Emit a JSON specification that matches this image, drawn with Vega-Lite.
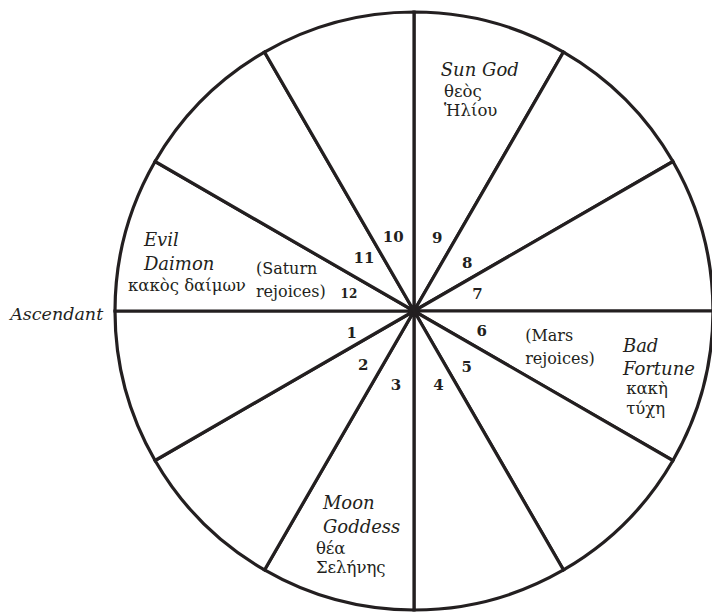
{
  "$schema": "https://vega.github.io/schema/vega-lite/v6.json",
  "width": 598,
  "height": 598,
  "autosize": {"type": "none"},
  "padding": {"left": 115, "top": 12, "right": 0, "bottom": 6},
  "background": "white",
  "config": {"view": {"stroke": null}, "text": {"font": "DejaVu Serif", "color": "#231f20"}},
  "datasets": {
    "houses": [
      {"house": 1, "span": 30, "r": 1}, {"house": 2, "span": 30, "r": 1}, {"house": 3, "span": 30, "r": 1},
      {"house": 4, "span": 30, "r": 1}, {"house": 5, "span": 30, "r": 1}, {"house": 6, "span": 30, "r": 1},
      {"house": 7, "span": 30, "r": 1}, {"house": 8, "span": 30, "r": 1}, {"house": 9, "span": 30, "r": 1},
      {"house": 10, "span": 30, "r": 1}, {"house": 11, "span": 30, "r": 1}, {"house": 12, "span": 30, "r": 1}
    ],
    "labels": [
      {"kind": "number", "label": "1", "angle": 250.3, "dist": 0.221},
      {"kind": "number", "label": "2", "angle": 223.2, "dist": 0.248},
      {"kind": "number", "label": "3", "angle": 193.7, "dist": 0.255},
      {"kind": "number", "label": "4", "angle": 161.8, "dist": 0.261},
      {"kind": "number", "label": "5", "angle": 136.6, "dist": 0.257},
      {"kind": "number", "label": "6", "angle": 106.5, "dist": 0.236},
      {"kind": "number", "label": "7", "angle": 75.1, "dist": 0.220},
      {"kind": "number", "label": "8", "angle": 47.8, "dist": 0.240},
      {"kind": "number", "label": "9", "angle": 17.8, "dist": 0.255},
      {"kind": "number", "label": "10", "angle": 344.4, "dist": 0.258},
      {"kind": "number", "label": "11", "angle": 316.5, "dist": 0.243},
      {"kind": "number", "label": "12", "angle": 284.7, "dist": 0.225},
      {"kind": "name", "label": "Sun God", "angle": 6.5, "dist": 0.791},
      {"kind": "greek", "label": "θεὸς\nἩλίου", "angle": 8.0, "dist": 0.723},
      {"kind": "name", "label": "Evil\nDaimon", "angle": 283.5, "dist": 0.929},
      {"kind": "greek", "label": "κακὸς δαίμων", "angle": 274.0, "dist": 0.959},
      {"kind": "note", "label": "(Saturn\nrejoices)", "angle": 283.2, "dist": 0.543},
      {"kind": "side", "label": "Ascendant", "angle": 268.3, "dist": 1.040},
      {"kind": "note", "label": "(Mars\nrejoices)", "angle": 105.1, "dist": 0.385},
      {"kind": "name", "label": "Bad\nFortune", "angle": 101.1, "dist": 0.712},
      {"kind": "greek", "label": "κακὴ\nτύχη", "angle": 111.4, "dist": 0.762},
      {"kind": "name", "label": "Moon\nGoddess", "angle": 204.7, "dist": 0.729},
      {"kind": "greek", "label": "θέα\nΣελήνης", "angle": 202.0, "dist": 0.876}
    ]
  },
  "layer": [
    {
      "data": {"name": "houses"},
      "mark": {"type": "arc", "fill": "white", "stroke": "#231f20", "strokeWidth": 3.2},
      "encoding": {
        "theta": {"field": "span", "type": "quantitative", "stack": true, "scale": {"domain": [0, 360]}},
        "radius": {"field": "r", "type": "quantitative", "scale": {"type": "linear", "domain": [0, 1], "range": [0, 299]}},
        "order": {"field": "house", "type": "quantitative"}
      }
    },
    {
      "data": {"name": "labels"},
      "transform": [{"filter": "datum.kind == 'number' && datum.label != '12'"}],
      "mark": {"type": "text", "fontWeight": "bold", "fontSize": 15, "align": "center", "baseline": "middle"},
      "encoding": {
        "theta": {"field": "angle", "type": "quantitative"},
        "radius": {"field": "dist", "type": "quantitative"},
        "text": {"field": "label"}
      }
    },
    {
      "data": {"name": "labels"},
      "transform": [{"filter": "datum.label == '12'"}],
      "mark": {"type": "text", "fontWeight": "bold", "fontSize": 12, "align": "center", "baseline": "middle"},
      "encoding": {
        "theta": {"field": "angle", "type": "quantitative"},
        "radius": {"field": "dist", "type": "quantitative"},
        "text": {"field": "label"}
      }
    },
    {
      "data": {"name": "labels"},
      "transform": [{"filter": "datum.kind == 'name'"}],
      "mark": {"type": "text", "fontStyle": "italic", "fontSize": 18, "align": "left", "baseline": "alphabetic", "lineBreak": "\n", "lineHeight": 23.5},
      "encoding": {
        "theta": {"field": "angle", "type": "quantitative"},
        "radius": {"field": "dist", "type": "quantitative"},
        "text": {"field": "label"}
      }
    },
    {
      "data": {"name": "labels"},
      "transform": [{"filter": "datum.kind == 'side'"}],
      "mark": {"type": "text", "fontStyle": "italic", "fontSize": 17.5, "align": "right", "baseline": "alphabetic"},
      "encoding": {
        "theta": {"field": "angle", "type": "quantitative"},
        "radius": {"field": "dist", "type": "quantitative"},
        "text": {"field": "label"}
      }
    },
    {
      "data": {"name": "labels"},
      "transform": [{"filter": "datum.kind == 'greek'"}],
      "mark": {"type": "text", "fontSize": 16.5, "align": "left", "baseline": "alphabetic", "lineBreak": "\n", "lineHeight": 19.5},
      "encoding": {
        "theta": {"field": "angle", "type": "quantitative"},
        "radius": {"field": "dist", "type": "quantitative"},
        "text": {"field": "label"}
      }
    },
    {
      "data": {"name": "labels"},
      "transform": [{"filter": "datum.kind == 'note'"}],
      "mark": {"type": "text", "fontSize": 16, "align": "left", "baseline": "alphabetic", "lineBreak": "\n", "lineHeight": 23},
      "encoding": {
        "theta": {"field": "angle", "type": "quantitative"},
        "radius": {"field": "dist", "type": "quantitative"},
        "text": {"field": "label"}
      }
    }
  ]
}
